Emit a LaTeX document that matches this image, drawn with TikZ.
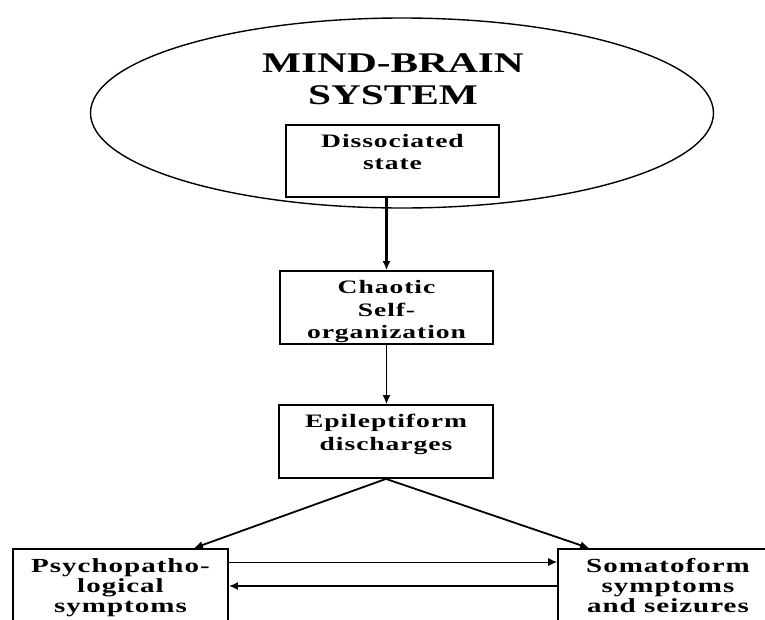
\documentclass[tikz,border=0pt]{standalone}
\usepackage{fontspec}
\newfontfamily\headfont[FakeStretch=1.45]{Liberation Serif}
\newfontfamily\boxfont[FakeStretch=1.45,LetterSpace=5]{Liberation Serif}
\usetikzlibrary{arrows.meta,shapes.geometric,positioning}

\begin{document}
\begin{tikzpicture}[x=1pt,y=-1pt,
  box/.style={draw,fill=white,line width=1.8pt,inner sep=0pt},
  txt/.style={align=center,inner sep=0pt,font=\boxfont\bfseries\fontsize{19}{22.5}\selectfont},
  lowtxt/.style={align=center,inner sep=0pt,font=\boxfont\bfseries\fontsize{20}{20}\selectfont},
  arr/.style={-{Latex[length=9pt,width=8pt]}}]
\useasboundingbox (0,0) rectangle (765,619);
\clip (0,0) rectangle (765,619);
% the system
\node[draw,ellipse,line width=1.4pt,minimum width=623pt,minimum height=190pt,inner sep=0pt] (mind) at (402,113) {};
\node[anchor=north,align=center,inner sep=0pt,font=\headfont\bfseries\fontsize{28.5}{32}\selectfont] (title) at (393,53) {MIND-BRAIN\\SYSTEM};
% boxes
\node[box,minimum width=213pt,minimum height=72pt] (diss) at (392.5,161) {};
\node[txt,below=10pt of diss.north] (dissT) {Dissociated\\state};
\node[box,minimum width=213pt,minimum height=73pt] (chaos) at (386.5,307.5) {};
\node[txt,below=10.5pt of chaos.north] (chaosT) {Chaotic\\Self-\\organization};
\node[box,minimum width=214pt,minimum height=73pt] (epi) at (386,441.5) {};
\node[txt,below=10pt of epi.north] (epiT) {Epileptiform\\discharges};
\node[box,minimum width=215pt,minimum height=90pt] (psy) at (120.5,594) {};
\node[lowtxt,below=10.5pt of psy.north] (psyT) {Psychopatho-\\logical\\symptoms};
\node[box,minimum width=220pt,minimum height=90pt] (soma) at (668,594) {};
\node[lowtxt,below=10.5pt of soma.north] (somaT) {Somatoform\\symptoms\\and seizures};
% arrows
\draw[arr,line width=2.4pt] (diss.south -| chaos.north) -- (chaos.north);
\draw[arr,line width=1.5pt] (chaos.south) -- (chaos.south |- epi.north);
\draw[arr,line width=1.8pt] (epi.south) -- ([xshift=-35pt]psy.north east);
\draw[arr,line width=1.8pt] (epi.south) -- ([xshift=32pt]soma.north west);
\draw[arr,line width=1pt] ([yshift=32pt]psy.east) -- ([yshift=32pt]soma.west);
\draw[arr,line width=2pt] ([yshift=8pt]soma.west) -- ([yshift=8pt]psy.east);
\end{tikzpicture}
\end{document}
